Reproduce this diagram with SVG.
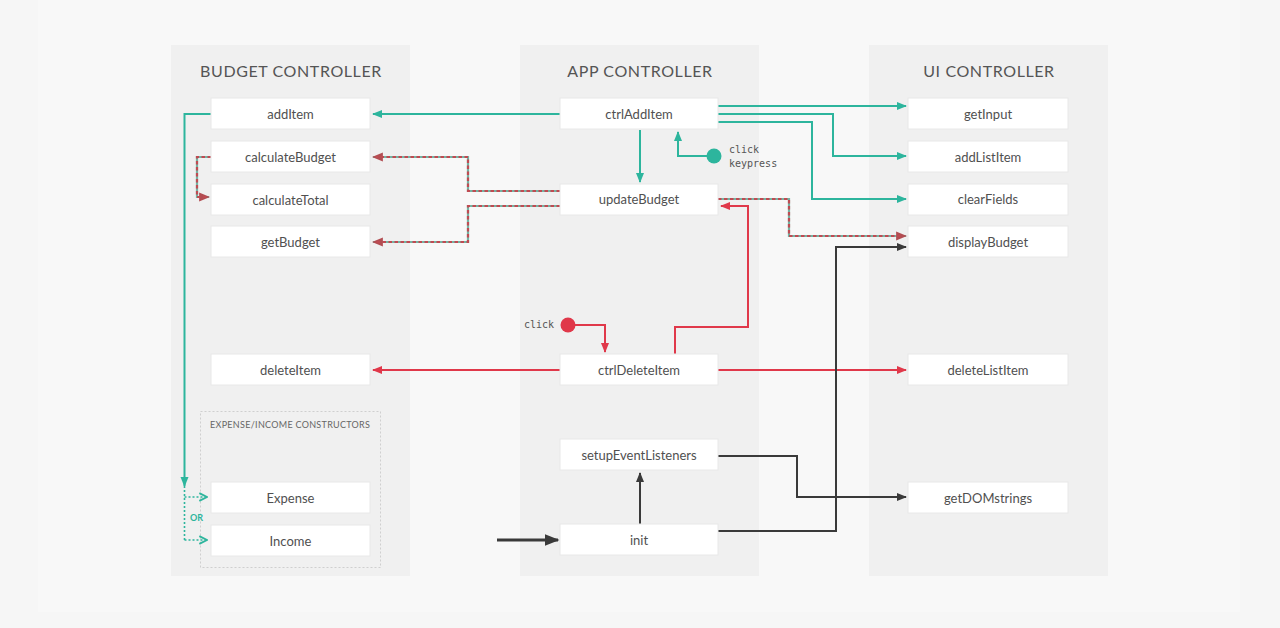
<svg xmlns="http://www.w3.org/2000/svg" width="1280" height="628" viewBox="0 0 1280 628">
  <style>
    .col { fill: #f0f0f0; }
    .title { font-family: Lato, "Liberation Sans", sans-serif; font-size: 16px; fill: #555; text-anchor: middle; letter-spacing: 0.6px; }
    .node rect { fill: #ffffff; stroke: #e8e8e8; stroke-width: 1; }
    .node text { font-family: Lato, "Liberation Sans", sans-serif; font-size: 13px; fill: #505050; text-anchor: middle; }
    .mono { font-family: "DejaVu Sans Mono", "Liberation Mono", monospace; font-size: 10px; fill: #555; }
    .teal { fill: none; stroke: #2db59d; stroke-width: 2; }
    .red { fill: none; stroke: #e0384a; stroke-width: 2; }
    .dark { fill: none; stroke: #3a3a3a; stroke-width: 2; }
    .mixbase { fill: none; stroke: #74b3a3; stroke-width: 2.2; }
    .mixdash { fill: none; stroke: #bf4b52; stroke-width: 2.2; stroke-dasharray: 3.5 2.5; }
    .dot { fill: none; stroke: #2db59d; stroke-width: 1.6; stroke-dasharray: 2 2; }
  </style>
  <defs>
    <marker id="aTeal" viewBox="0 0 10 10" refX="9" refY="5" markerWidth="5" markerHeight="5" orient="auto">
      <path d="M0,1 L10,5 L0,9 z" fill="#2db59d"/>
    </marker>
    <marker id="aRed" viewBox="0 0 10 10" refX="9" refY="5" markerWidth="5" markerHeight="5" orient="auto">
      <path d="M0,1 L10,5 L0,9 z" fill="#e0384a"/>
    </marker>
    <marker id="aMix" viewBox="0 0 10 10" refX="9" refY="5" markerWidth="5" markerHeight="5" orient="auto">
      <path d="M0,1 L10,5 L0,9 z" fill="#b24d52"/>
    </marker>
    <marker id="aDark" viewBox="0 0 10 10" refX="9" refY="5" markerWidth="5" markerHeight="5" orient="auto">
      <path d="M0,1 L10,5 L0,9 z" fill="#3a3a3a"/>
    </marker>
    <marker id="aDot" viewBox="0 0 10 10" refX="9" refY="5" markerWidth="6" markerHeight="6" orient="auto">
      <path d="M1,1 L9,5 L1,9" fill="none" stroke="#2db59d" stroke-width="2"/>
    </marker>
  </defs>

  <!-- page -->
  <rect x="0" y="0" width="1280" height="628" fill="#f6f6f6"/>
  <rect x="38" y="0" width="1202" height="612" fill="#f8f8f8"/>

  <!-- controller columns -->
  <g id="budget-controller">
    <rect class="col" x="171" y="45" width="239" height="531"/>
    <text class="title" x="291" y="77">BUDGET CONTROLLER</text>
  </g>
  <g id="app-controller">
    <rect class="col" x="520" y="45" width="239" height="531"/>
    <text class="title" x="640" y="77">APP CONTROLLER</text>
  </g>
  <g id="ui-controller">
    <rect class="col" x="869" y="45" width="239" height="531"/>
    <text class="title" x="989" y="77">UI CONTROLLER</text>
  </g>

  <!-- constructors group -->
  <g id="constructors">
    <rect x="200.5" y="411.5" width="180" height="156" fill="none" stroke="#cfcfcf" stroke-width="1" stroke-dasharray="2 2"/>
    <text x="210" y="428" font-family="Lato, 'Liberation Sans', sans-serif" font-size="9" fill="#666" letter-spacing="0.3">EXPENSE/INCOME CONSTRUCTORS</text>
  </g>

  <!-- connectors -->
  <g id="connectors">
    <!-- teal: add item flow -->
    <path class="teal" d="M560,114 H373" marker-end="url(#aTeal)"/>
    <path class="teal" d="M211,114 H184.5 V486" marker-end="url(#aTeal)"/>
    <path class="dot" d="M184.5,486 V540"/>
    <path class="dot" d="M184.5,497 H207" marker-end="url(#aDot)"/>
    <path class="dot" d="M184.5,540 H207" marker-end="url(#aDot)"/>
    <path class="teal" d="M640,130 V182" marker-end="url(#aTeal)"/>
    <path class="teal" d="M707,156 H678 V132" marker-end="url(#aTeal)"/>
    <path class="teal" d="M718,106 H906" marker-end="url(#aTeal)"/>
    <path class="teal" d="M718,114 H833 V156 H906" marker-end="url(#aTeal)"/>
    <path class="teal" d="M718,122 H812 V199 H906" marker-end="url(#aTeal)"/>

    <!-- mixed: budget update flow -->
    <path class="mixbase" d="M560,191 H468 V157 H373" marker-end="url(#aMix)"/>
    <path class="mixdash" d="M560,191 H468 V157 H376"/>
    <path class="mixbase" d="M560,206 H468 V242 H373" marker-end="url(#aMix)"/>
    <path class="mixdash" d="M560,206 H468 V242 H376"/>
    <path class="mixbase" d="M211,157 H197 V197 H209" marker-end="url(#aMix)"/>
    <path class="mixdash" d="M211,157 H197 V197 H206"/>
    <path class="mixbase" d="M718,199 H789 V236 H906" marker-end="url(#aMix)"/>
    <path class="mixdash" d="M718,199 H789 V236 H903"/>

    <!-- red: delete flow -->
    <path class="red" d="M575,325 H605 V352" marker-end="url(#aRed)"/>
    <path class="red" d="M675,354 V327 H748 V206 H721" marker-end="url(#aRed)"/>
    <path class="red" d="M560,370 H373" marker-end="url(#aRed)"/>
    <path class="red" d="M718,370 H906" marker-end="url(#aRed)"/>

    <!-- dark: init flow -->
    <path d="M497,540 H558" fill="none" stroke="#3a3a3a" stroke-width="3" marker-end="url(#aDark)"/>
    <path class="dark" d="M640,524 V473" marker-end="url(#aDark)"/>
    <path class="dark" d="M718,456 H797 V497 H906" marker-end="url(#aDark)"/>
    <path class="dark" d="M718,531 H836 V247 H906" marker-end="url(#aDark)"/>

    <text x="190" y="521" font-family="Lato, 'Liberation Sans', sans-serif" font-size="9" font-weight="bold" fill="#2db59d">OR</text>
  </g>

  <!-- events -->
  <g id="event-click-keypress">
    <circle cx="714" cy="156" r="7.5" fill="#2db59d"/>
    <text class="mono" x="729" y="153">click</text>
    <text class="mono" x="729" y="167">keypress</text>
  </g>
  <g id="event-click">
    <circle cx="568" cy="325" r="7.5" fill="#e0384a"/>
    <text class="mono" x="524" y="328">click</text>
  </g>

  <!-- budget controller nodes -->
  <g id="addItem" class="node"><rect x="211" y="98" width="159" height="31"/><text x="290.5" y="118.5">addItem</text></g>
  <g id="calculateBudget" class="node"><rect x="211" y="141" width="159" height="31"/><text x="290.5" y="161.5">calculateBudget</text></g>
  <g id="calculateTotal" class="node"><rect x="211" y="184" width="159" height="31"/><text x="290.5" y="204.5">calculateTotal</text></g>
  <g id="getBudget" class="node"><rect x="211" y="226" width="159" height="31"/><text x="290.5" y="246.5">getBudget</text></g>
  <g id="deleteItem" class="node"><rect x="211" y="354" width="159" height="31"/><text x="290.5" y="374.5">deleteItem</text></g>
  <g id="Expense" class="node"><rect x="211" y="482" width="159" height="31"/><text x="290.5" y="502.5">Expense</text></g>
  <g id="Income" class="node"><rect x="211" y="525" width="159" height="31"/><text x="290.5" y="545.5">Income</text></g>

  <!-- app controller nodes -->
  <g id="ctrlAddItem" class="node"><rect x="560" y="98" width="158" height="31"/><text x="639" y="118.5">ctrlAddItem</text></g>
  <g id="updateBudget" class="node"><rect x="560" y="184" width="158" height="31"/><text x="639" y="204">updateBudget</text></g>
  <g id="ctrlDeleteItem" class="node"><rect x="560" y="354" width="158" height="31"/><text x="639" y="374.5">ctrlDeleteItem</text></g>
  <g id="setupEventListeners" class="node"><rect x="560" y="439" width="158" height="31"/><text x="639" y="459.5">setupEventListeners</text></g>
  <g id="init" class="node"><rect x="560" y="524" width="158" height="31"/><text x="639" y="544.5">init</text></g>

  <!-- ui controller nodes -->
  <g id="getInput" class="node"><rect x="908" y="98" width="160" height="31"/><text x="988" y="118.5">getInput</text></g>
  <g id="addListItem" class="node"><rect x="908" y="141" width="160" height="31"/><text x="988" y="161.5">addListItem</text></g>
  <g id="clearFields" class="node"><rect x="908" y="184" width="160" height="31"/><text x="988" y="204">clearFields</text></g>
  <g id="displayBudget" class="node"><rect x="908" y="226" width="160" height="31"/><text x="988" y="246.5">displayBudget</text></g>
  <g id="deleteListItem" class="node"><rect x="908" y="354" width="160" height="31"/><text x="988" y="374.5">deleteListItem</text></g>
  <g id="getDOMstrings" class="node"><rect x="908" y="482" width="160" height="31"/><text x="988" y="502.5">getDOMstrings</text></g>
</svg>
